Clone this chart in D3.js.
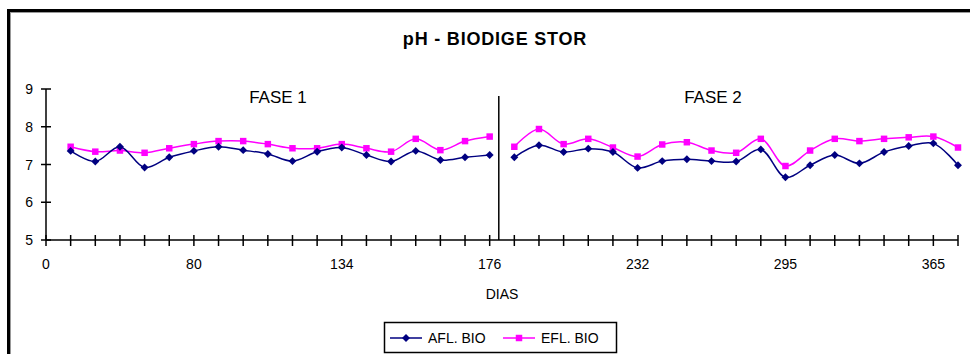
<!DOCTYPE html>
<html>
<head>
<meta charset="utf-8">
<script src="https://cdn.jsdelivr.net/npm/d3@7"></script>
<style>
  body { margin: 0; background: #fff; }
  svg { display: block; }
  text { font-family: "Liberation Sans", Arial, sans-serif; fill: #000; }
</style>
</head>
<body>
<div id="chart-area"></div>
<script>
// sampling positions on the category axis (fase 1 and fase 2)
const fase1Pos = [1, 2, 3, 4, 5, 6, 7, 8, 9, 10, 11, 12, 13, 14, 15, 16, 17, 18];
const fase2Pos = [19, 20, 21, 22, 23, 24, 25, 26, 27, 28, 29, 30, 31, 32, 33, 34, 35, 36, 37];

const aflFase1 = [7.36, 7.08, 7.47, 6.92, 7.19, 7.36, 7.47, 7.38, 7.28, 7.09, 7.34, 7.45, 7.25, 7.08, 7.36, 7.12, 7.19, 7.25];
const eflFase1 = [7.47, 7.34, 7.37, 7.31, 7.43, 7.54, 7.62, 7.62, 7.54, 7.43, 7.43, 7.54, 7.43, 7.34, 7.68, 7.38, 7.62, 7.74];
const aflFase2 = [7.19, 7.51, 7.33, 7.42, 7.33, 6.91, 7.09, 7.14, 7.09, 7.08, 7.40, 6.66, 6.98, 7.25, 7.03, 7.33, 7.49, 7.56, 6.98];
const eflFase2 = [7.47, 7.94, 7.54, 7.68, 7.45, 7.21, 7.53, 7.59, 7.37, 7.31, 7.68, 6.96, 7.37, 7.68, 7.62, 7.68, 7.72, 7.74, 7.45];

// x tick labels (every 6th category)
const tickPos = [0, 6, 12, 18, 24, 30, 36];
const tickLabels = ["0", "80", "134", "176", "232", "295", "365"];
const yTicks = [5, 6, 7, 8, 9];
const dividerPos = 18.37;

const WIDTH = 970, HEIGHT = 354;
const AFL_COLOR = "#000080", EFL_COLOR = "#ff00ff";

const svg = d3.select("#chart-area").append("svg")
  .attr("width", WIDTH)
  .attr("height", HEIGHT);

// frame (top and left edges visible)
svg.append("line").attr("x1", 7).attr("x2", WIDTH).attr("y1", 10.5).attr("y2", 10.5)
  .attr("stroke", "#000").attr("stroke-width", 3);
svg.append("line").attr("x1", 8.5).attr("x2", 8.5).attr("y1", 9).attr("y2", HEIGHT)
  .attr("stroke", "#000").attr("stroke-width", 3);
svg.append("line").attr("x1", 10).attr("x2", WIDTH).attr("y1", 12.5).attr("y2", 12.5)
  .attr("stroke", "#999").attr("stroke-width", 1);
svg.append("line").attr("x1", 10.5).attr("x2", 10.5).attr("y1", 12).attr("y2", HEIGHT)
  .attr("stroke", "#999").attr("stroke-width", 1);

const x = d3.scaleLinear().domain([0, 37]).range([46, 958]);
const y = d3.scaleLinear().domain([5, 9]).range([240, 89]);

// title
svg.append("text")
  .attr("x", 495).attr("y", 45)
  .attr("text-anchor", "middle")
  .style("font-weight", "bold")
  .style("font-size", "18px")
  .style("letter-spacing", "0.8px")
  .text("pH - BIODIGE STOR");

// y axis
svg.append("line").attr("x1", x(0)).attr("x2", x(0)).attr("y1", y(9)).attr("y2", y(5))
  .attr("stroke", "#000").attr("stroke-width", 1.5);
svg.selectAll(".ytick").data(yTicks).enter().append("line")
  .attr("x1", x(0) - 5).attr("x2", x(0) + 5)
  .attr("y1", d => y(d)).attr("y2", d => y(d))
  .attr("stroke", "#000").attr("stroke-width", 1.5);
svg.selectAll(".ylab").data(yTicks).enter().append("text")
  .attr("x", 33).attr("y", d => y(d) + 5)
  .attr("text-anchor", "end")
  .style("font-size", "14px")
  .text(d => d);

// x axis
svg.append("line").attr("x1", x(0)).attr("x2", x(37)).attr("y1", y(5)).attr("y2", y(5))
  .attr("stroke", "#000").attr("stroke-width", 1.5);
svg.selectAll(".xtick").data(d3.range(0, 38)).enter().append("line")
  .attr("x1", d => x(d)).attr("x2", d => x(d))
  .attr("y1", y(5) - 5).attr("y2", y(5) + 6)
  .attr("stroke", "#000").attr("stroke-width", 1.5);
svg.selectAll(".xlab").data(tickPos).enter().append("text")
  .attr("x", d => x(d)).attr("y", y(5) + 29)
  .attr("text-anchor", "middle")
  .style("font-size", "14px")
  .text((d, i) => tickLabels[i]);

svg.append("text")
  .attr("x", 502).attr("y", 299)
  .attr("text-anchor", "middle")
  .style("font-size", "14px")
  .text("DIAS");

// phase labels and divider
svg.append("text").attr("x", 278).attr("y", 103).attr("text-anchor", "middle")
  .style("font-size", "17px").text("FASE 1");
svg.append("text").attr("x", 713).attr("y", 103).attr("text-anchor", "middle")
  .style("font-size", "17px").text("FASE 2");
svg.append("line").attr("x1", x(dividerPos)).attr("x2", x(dividerPos))
  .attr("y1", 96).attr("y2", y(5))
  .attr("stroke", "#000").attr("stroke-width", 1.5);

// series
const line = d3.line()
  .x(d => x(d[0]))
  .y(d => y(d[1]))
  .curve(d3.curveCatmullRom.alpha(0.5));

const diamond = d3.symbol().type(d3.symbolDiamond2).size(40);
const square = d3.symbol().type(d3.symbolSquare).size(42);

function drawSeries(pos, vals, color, sym) {
  const pts = pos.map((p, i) => [p, vals[i]]);
  svg.append("path").datum(pts)
    .attr("d", line)
    .attr("fill", "none")
    .attr("stroke", color)
    .attr("stroke-width", 1.5);
  svg.selectAll(null).data(pts).enter().append("path")
    .attr("transform", d => `translate(${x(d[0])},${y(d[1])})`)
    .attr("d", sym)
    .attr("fill", color);
}

drawSeries(fase1Pos, eflFase1, EFL_COLOR, square);
drawSeries(fase2Pos, eflFase2, EFL_COLOR, square);
drawSeries(fase1Pos, aflFase1, AFL_COLOR, diamond);
drawSeries(fase2Pos, aflFase2, AFL_COLOR, diamond);

// legend
const legend = svg.append("g");
legend.append("rect")
  .attr("x", 384.5).attr("y", 322.5).attr("width", 232).attr("height", 30)
  .attr("fill", "#fff").attr("stroke", "#000").attr("stroke-width", 1.5);
const legendItems = [
  { name: "AFL. BIO", color: AFL_COLOR, sym: diamond, x: 390 },
  { name: "EFL. BIO", color: EFL_COLOR, sym: square, x: 503 }
];
legendItems.forEach(item => {
  legend.append("line")
    .attr("x1", item.x).attr("x2", item.x + 32)
    .attr("y1", 338).attr("y2", 338)
    .attr("stroke", item.color).attr("stroke-width", 1.5);
  legend.append("path")
    .attr("transform", `translate(${item.x + 16},338)`)
    .attr("d", item.sym)
    .attr("fill", item.color);
  legend.append("text")
    .attr("x", item.x + 38).attr("y", 343)
    .style("font-size", "14px")
    .text(item.name);
});
</script>
</body>
</html>
